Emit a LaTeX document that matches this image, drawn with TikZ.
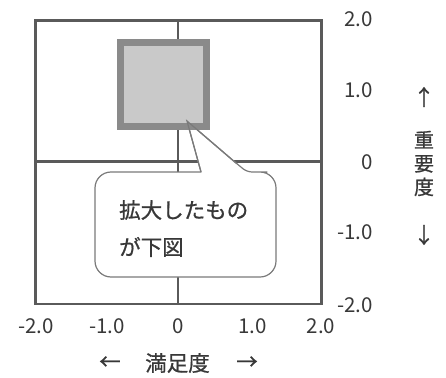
\documentclass[tikz,border=0pt]{standalone}
\usepackage{fontspec}
\setmainfont{Noto Sans CJK JP}
\newfontfamily\jpfont{Noto Sans CJK JP}[FakeBold=0.8]
\definecolor{framec}{HTML}{5A5A5A}
\definecolor{txtc}{HTML}{383838}
\definecolor{sqfill}{HTML}{C9C9C9}
\definecolor{sqborder}{HTML}{8A8A8A}
\definecolor{callc}{HTML}{7A7A7A}
\begin{document}
\begin{tikzpicture}[x=1pt,y=-1pt,
  framel/.style={draw=framec,line width=2.2pt},
  numlab/.style={text=txtc,font=\fontsize{20.5}{22}\selectfont,inner sep=0pt},
  jplab/.style={text=txtc,font=\jpfont\fontsize{21.5}{23}\selectfont,inner sep=0pt},
  sqbox/.style={fill=sqfill,draw=sqborder,line width=7pt},
  callout/.style={fill=white,draw=callc,line width=1.2pt,line join=round},
  ptrline/.style={draw=callc,line width=1.2pt}]
\useasboundingbox (0,0) rectangle (446,377);
% frame and axes
\coordinate (tl) at (35.5,20.5);
\coordinate (br) at (321.5,304);
\coordinate (vt) at (178,20.5);
\coordinate (vb) at (178,304);
\coordinate (hl) at (35.5,161.5);
\coordinate (hr) at (321.5,161.5);
\draw[framel] (vt) -- (vb);
\draw[framel] (hl) -- (hr);
\draw[framel] (tl) rectangle (br);
% callout
\coordinate (tip) at (187,121);
\coordinate (pl) at (201,172);
\coordinate (pr1) at (236,163);
\coordinate (pr2) at (247,172);
\path[callout] (150,277) [rounded corners=16pt] -- (95,277) -- (95,172) -- (180,172) [sharp corners] -- (pl) -- (tip) -- (pr1) [rounded corners=5pt] -- (pr2) -- (262,172) [rounded corners=16pt] -- (276,172) -- (276,277) -- cycle;
% square
\node[sqbox,minimum width=86pt,minimum height=84pt,inner sep=0pt] (sq) at (163.5,84.5) {};
\draw[ptrline] (pl) -- (tip) -- (pr1);
% callout text
\node[jplab,anchor=west] (c1) at (119,210) {拡大したもの};
\node[jplab,anchor=west] (c2) at (119,247) {が下図};
% right labels
\node[numlab,anchor=east] (r2) at (373,19.5) {2.0};
\node[numlab,anchor=east] (r1) at (373,90) {1.0};
\node[numlab,anchor=east] (r0) at (373,162.5) {0};
\node[numlab,anchor=east] (rm1) at (373,232.5) {-1.0};
\node[numlab,anchor=east] (rm2) at (373,305) {-2.0};
% bottom labels
\node[numlab] (bm2) at (36,326) {-2.0};
\node[numlab] (bm1) at (107,326) {-1.0};
\node[numlab] (b0) at (178,326) {0};
\node[numlab] (b1) at (252.5,326) {1.0};
\node[numlab] (b2) at (321,326) {2.0};
% axis titles
\node[jplab] (la) at (110,363) {←};
\node[jplab] (xt) at (177.5,363) {満足度};
\node[jplab] (ra) at (247,363) {→};
\node[jplab] (ua) at (424,97) {↑};
\node[jplab,align=center,font=\jpfont\fontsize{20}{23.5}\selectfont] (yt) at (424,163.5) {重\\要\\度};
\node[jplab] (da) at (424,235) {↓};
\end{tikzpicture}
\end{document}
